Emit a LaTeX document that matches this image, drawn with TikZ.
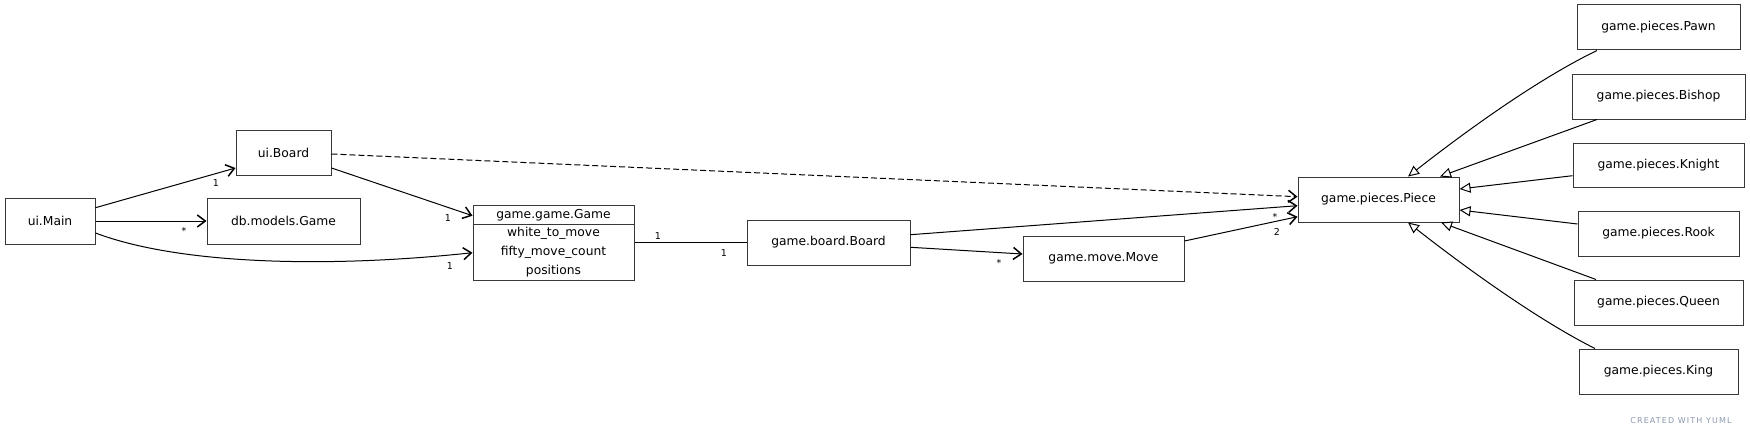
\documentclass[tikz,border=0pt]{standalone}
\usepackage{fontspec}
\setmainfont{DejaVu Sans}
\usetikzlibrary{arrows.meta,calc}
\definecolor{yumlgray}{HTML}{8A98AC}
\begin{document}
\begin{tikzpicture}[x=1pt,y=-1pt,
  cls/.style={draw=black!78, line width=1pt, fill=white, minimum height=45pt, inner sep=0pt, font=\fontsize{12.3}{14}\selectfont},
  txt/.style={inner sep=0pt, font=\fontsize{12.3}{14}\selectfont},
  assoc/.style={line width=1pt, -{Straight Barb[length=8pt,width=12pt,line width=1.5pt]}},
  plainline/.style={line width=1pt},
  dep/.style={assoc, dash pattern=on 6pt off 3pt},
  inh/.style={line width=1pt, -{Triangle[length=11pt,width=10pt,fill=white,line width=1pt]}},
  mult/.style={font=\fontsize{9.5}{11}\selectfont, inner sep=0pt},
]
\useasboundingbox (0,0) rectangle (1750,436);

% classes
\node[cls, minimum width=90pt, minimum height=46pt] (main) at (50,221) {ui.Main};
\node[cls, minimum width=95pt] (uiboard) at (283.5,152.5) {ui.Board};
\node[cls, minimum width=153pt, minimum height=46pt] (dbgame) at (283.5,221) {db.models.Game};
\node[cls, minimum width=161pt, minimum height=75pt] (game) at (553.5,242.5) {};
\node[txt] (gtitle) at (553.5,215.5) {game.game.Game};
\node[txt] (ga1) at (553.5,233.5) {white\_to\_move};
\node[txt] (ga2) at (553.5,252.3) {fifty\_move\_count};
\node[txt] (ga3) at (553.5,271) {positions};
\coordinate (divy) at (0,224);
\draw[draw=black!78, line width=1pt] (game.west |- divy) -- (game.east |- divy);
\node[cls, minimum width=163pt] (board) at (828.5,242.5) {game.board.Board};
\node[cls, minimum width=161pt] (move) at (1103.5,258.5) {game.move.Move};
\node[cls, minimum width=161pt] (piece) at (1378.5,199.5) {game.pieces.Piece};
\node[cls, minimum width=163pt] (pawn) at (1658.5,27.5) {game.pieces.Pawn};
\node[cls, minimum width=173pt] (bishop) at (1658.5,96.5) {game.pieces.Bishop};
\node[cls, minimum width=171pt, minimum height=44pt] (knight) at (1658.5,165) {game.pieces.Knight};
\node[cls, minimum width=161pt] (rook) at (1658.5,233.5) {game.pieces.Rook};
\node[cls, minimum width=169pt] (queen) at (1658.5,302.5) {game.pieces.Queen};
\node[cls, minimum width=159pt] (king) at (1658.5,371.5) {game.pieces.King};

% associations
\draw[assoc] ([yshift=13.3pt]main.east) -- ([yshift=-15.5pt]uiboard.west);
\node[mult] (m1) at (216,183) {1};
\draw[assoc] (main.east) -- (dbgame.west);
\node[mult] (m2) at (184,231) {*};
\draw[assoc] ([yshift=-12pt]main.east) .. controls (180,265) and (330,268) .. ([yshift=-10.2pt]game.west);
\node[mult] (m3) at (450,266) {1};
\draw[assoc] ([yshift=-15.5pt]uiboard.east) -- ([yshift=26.8pt]game.west);
\node[mult] (m4) at (448,218) {1};
\draw[dep] ([yshift=-1.5pt]uiboard.east) -- ([yshift=2.8pt]piece.west);
\draw[plainline] (game.east) -- (board.west);
\node[mult] (m5) at (658,236) {1};
\node[mult] (m6) at (724,253) {1};
\draw[assoc] ([yshift=7.8pt]board.east) -- ([yshift=-6.2pt]piece.west);
\draw[assoc] ([yshift=-4.8pt]board.east) -- ([yshift=4.5pt]move.west);
\node[mult] (m7) at (999,263) {*};
\draw[assoc] ([yshift=17.5pt]move.east) -- ([yshift=-17.2pt]piece.west);
\node[mult] (m8) at (1275,217) {*};
\node[mult] (m9) at (1277,232) {2};

% inheritance
\draw[inh] ([xshift=-61.5pt]pawn.south) .. controls (1540,78) and (1470,128) .. ([xshift=29.5pt]piece.north);
\draw[inh] ([xshift=-61.5pt]bishop.south) -- ([xshift=61.5pt]piece.north);
\draw[inh] ([yshift=-10.7pt]knight.west) -- ([yshift=10.5pt]piece.east);
\draw[inh] ([yshift=9.5pt]rook.west) -- ([yshift=-10.5pt]piece.east);
\draw[inh] ([xshift=-62.5pt]queen.north) -- ([xshift=62.5pt]piece.south);
\draw[inh] ([xshift=-63.5pt]king.north) .. controls (1540,321) and (1470,271) .. ([xshift=29.5pt]piece.south);

\node[font=\fontsize{8}{9}\selectfont\addfontfeatures{LetterSpace=14}, text=yumlgray, inner sep=0pt] (credit) at (1681,421) {CREATED WITH YUML};
\end{tikzpicture}
\end{document}
